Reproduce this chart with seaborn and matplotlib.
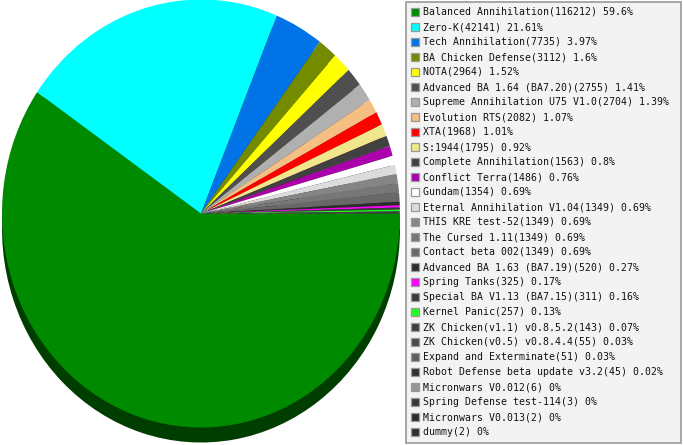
import matplotlib
matplotlib.use("Agg")
import matplotlib.pyplot as plt
import matplotlib.colors as mcolors
from matplotlib.patches import Rectangle
import seaborn as sns

names = ["Balanced Annihilation", "Zero-K", "Tech Annihilation", "BA Chicken Defense",
         "NOTA", "Advanced BA 1.64 (BA7.20)", "Supreme Annihilation U75 V1.0",
         "Evolution RTS", "XTA", "S:1944", "Complete Annihilation", "Conflict Terra",
         "Gundam", "Eternal Annihilation V1.04", "THIS KRE test-52", "The Cursed 1.11",
         "Contact beta 002", "Advanced BA 1.63 (BA7.19)", "Spring Tanks",
         "Special BA V1.13 (BA7.15)", "Kernel Panic", "ZK Chicken(v1.1) v0.8.5.2",
         "ZK Chicken(v0.5) v0.8.4.4", "Expand and Exterminate",
         "Robot Defense beta update v3.2", "Micronwars V0.012", "Spring Defense test-114",
         "Micronwars V0.013", "dummy"]
counts = [116212, 42141, 7735, 3112, 2964, 2755, 2704, 2082, 1968, 1795, 1563, 1486,
          1354, 1349, 1349, 1349, 1349, 520, 325, 311, 257, 143, 55, 51, 45, 6, 3, 2, 2]
percents = ["59.6%", "21.61%", "3.97%", "1.6%", "1.52%", "1.41%", "1.39%", "1.07%",
            "1.01%", "0.92%", "0.8%", "0.76%", "0.69%", "0.69%", "0.69%", "0.69%",
            "0.69%", "0.27%", "0.17%", "0.16%", "0.13%", "0.07%", "0.03%", "0.03%",
            "0.02%", "0%", "0%", "0%", "0%"]
colors = ["#008a00", "#00ffff", "#0073e6", "#748b00", "#ffff00", "#4f4f4f", "#b0b0b0",
          "#f5be82", "#ff0000", "#f0e68c", "#414141", "#ab00ab", "#ffffff", "#dcdcdc",
          "#858585", "#777777", "#686868", "#2c2c2c", "#ff00ff", "#3a3a3a", "#22ff22",
          "#3e3e3e", "#4a4a4a", "#5e5e5e", "#303030", "#959595", "#383838", "#2c2c2c",
          "#303030"]

sns.set_style("white")
plt.rcParams["font.family"] = ["DejaVu Sans Mono", "DejaVu Sans"]

W, H = 683, 445
fig = plt.figure(figsize=(W / 100, H / 100), dpi=100)
fig.patch.set_facecolor("white")

# pie geometry in pixels
cx, cy_top, rx, ry, depth = 201, 213.5, 199, 214, 15
ax = fig.add_axes([(cx - rx) / W, 0, 2 * rx / W, 1])
ax.set_xlim(-1, 1)
ax.set_ylim(-(H - cy_top) / ry, cy_top / ry)
ax.set_aspect("auto")
ax.axis("off")

dark = [tuple(c * 0.45 for c in mcolors.to_rgb(col)) for col in colors]
ax.pie(counts, colors=dark, startangle=0, counterclock=False, radius=1,
       center=(0, -depth / ry), wedgeprops=dict(linewidth=0, antialiased=True),
       frame=False)
ax.pie(counts, colors=colors, startangle=0, counterclock=False, radius=1,
       center=(0, 0), wedgeprops=dict(linewidth=0, antialiased=True), frame=False)
ax.set_xlim(-1, 1)
ax.set_ylim(-(H - cy_top) / ry, cy_top / ry)
ax.set_aspect("auto")

# legend drawn in pixel coordinates
lax = fig.add_axes([0, 0, 1, 1], facecolor="none")
lax.set_xlim(0, W)
lax.set_ylim(H, 0)
lax.axis("off")
lax.add_patch(Rectangle((405.5, 1.5), 275, 441.5, facecolor="#f3f3f3",
                        edgecolor="#999999", linewidth=1.2))
for i, (n, c, p, col) in enumerate(zip(names, counts, percents, colors)):
    y = 11.5 + i * 15.0
    lax.add_patch(Rectangle((410.5, y - 4), 8, 8, facecolor=col,
                            edgecolor="#999999", linewidth=0.9))
    lax.text(423, y + 0.5, f"{n}({c}) {p}", fontsize=7.15, va="center", ha="left",
             color="#111111")

fig.savefig("out.png", dpi=100)
